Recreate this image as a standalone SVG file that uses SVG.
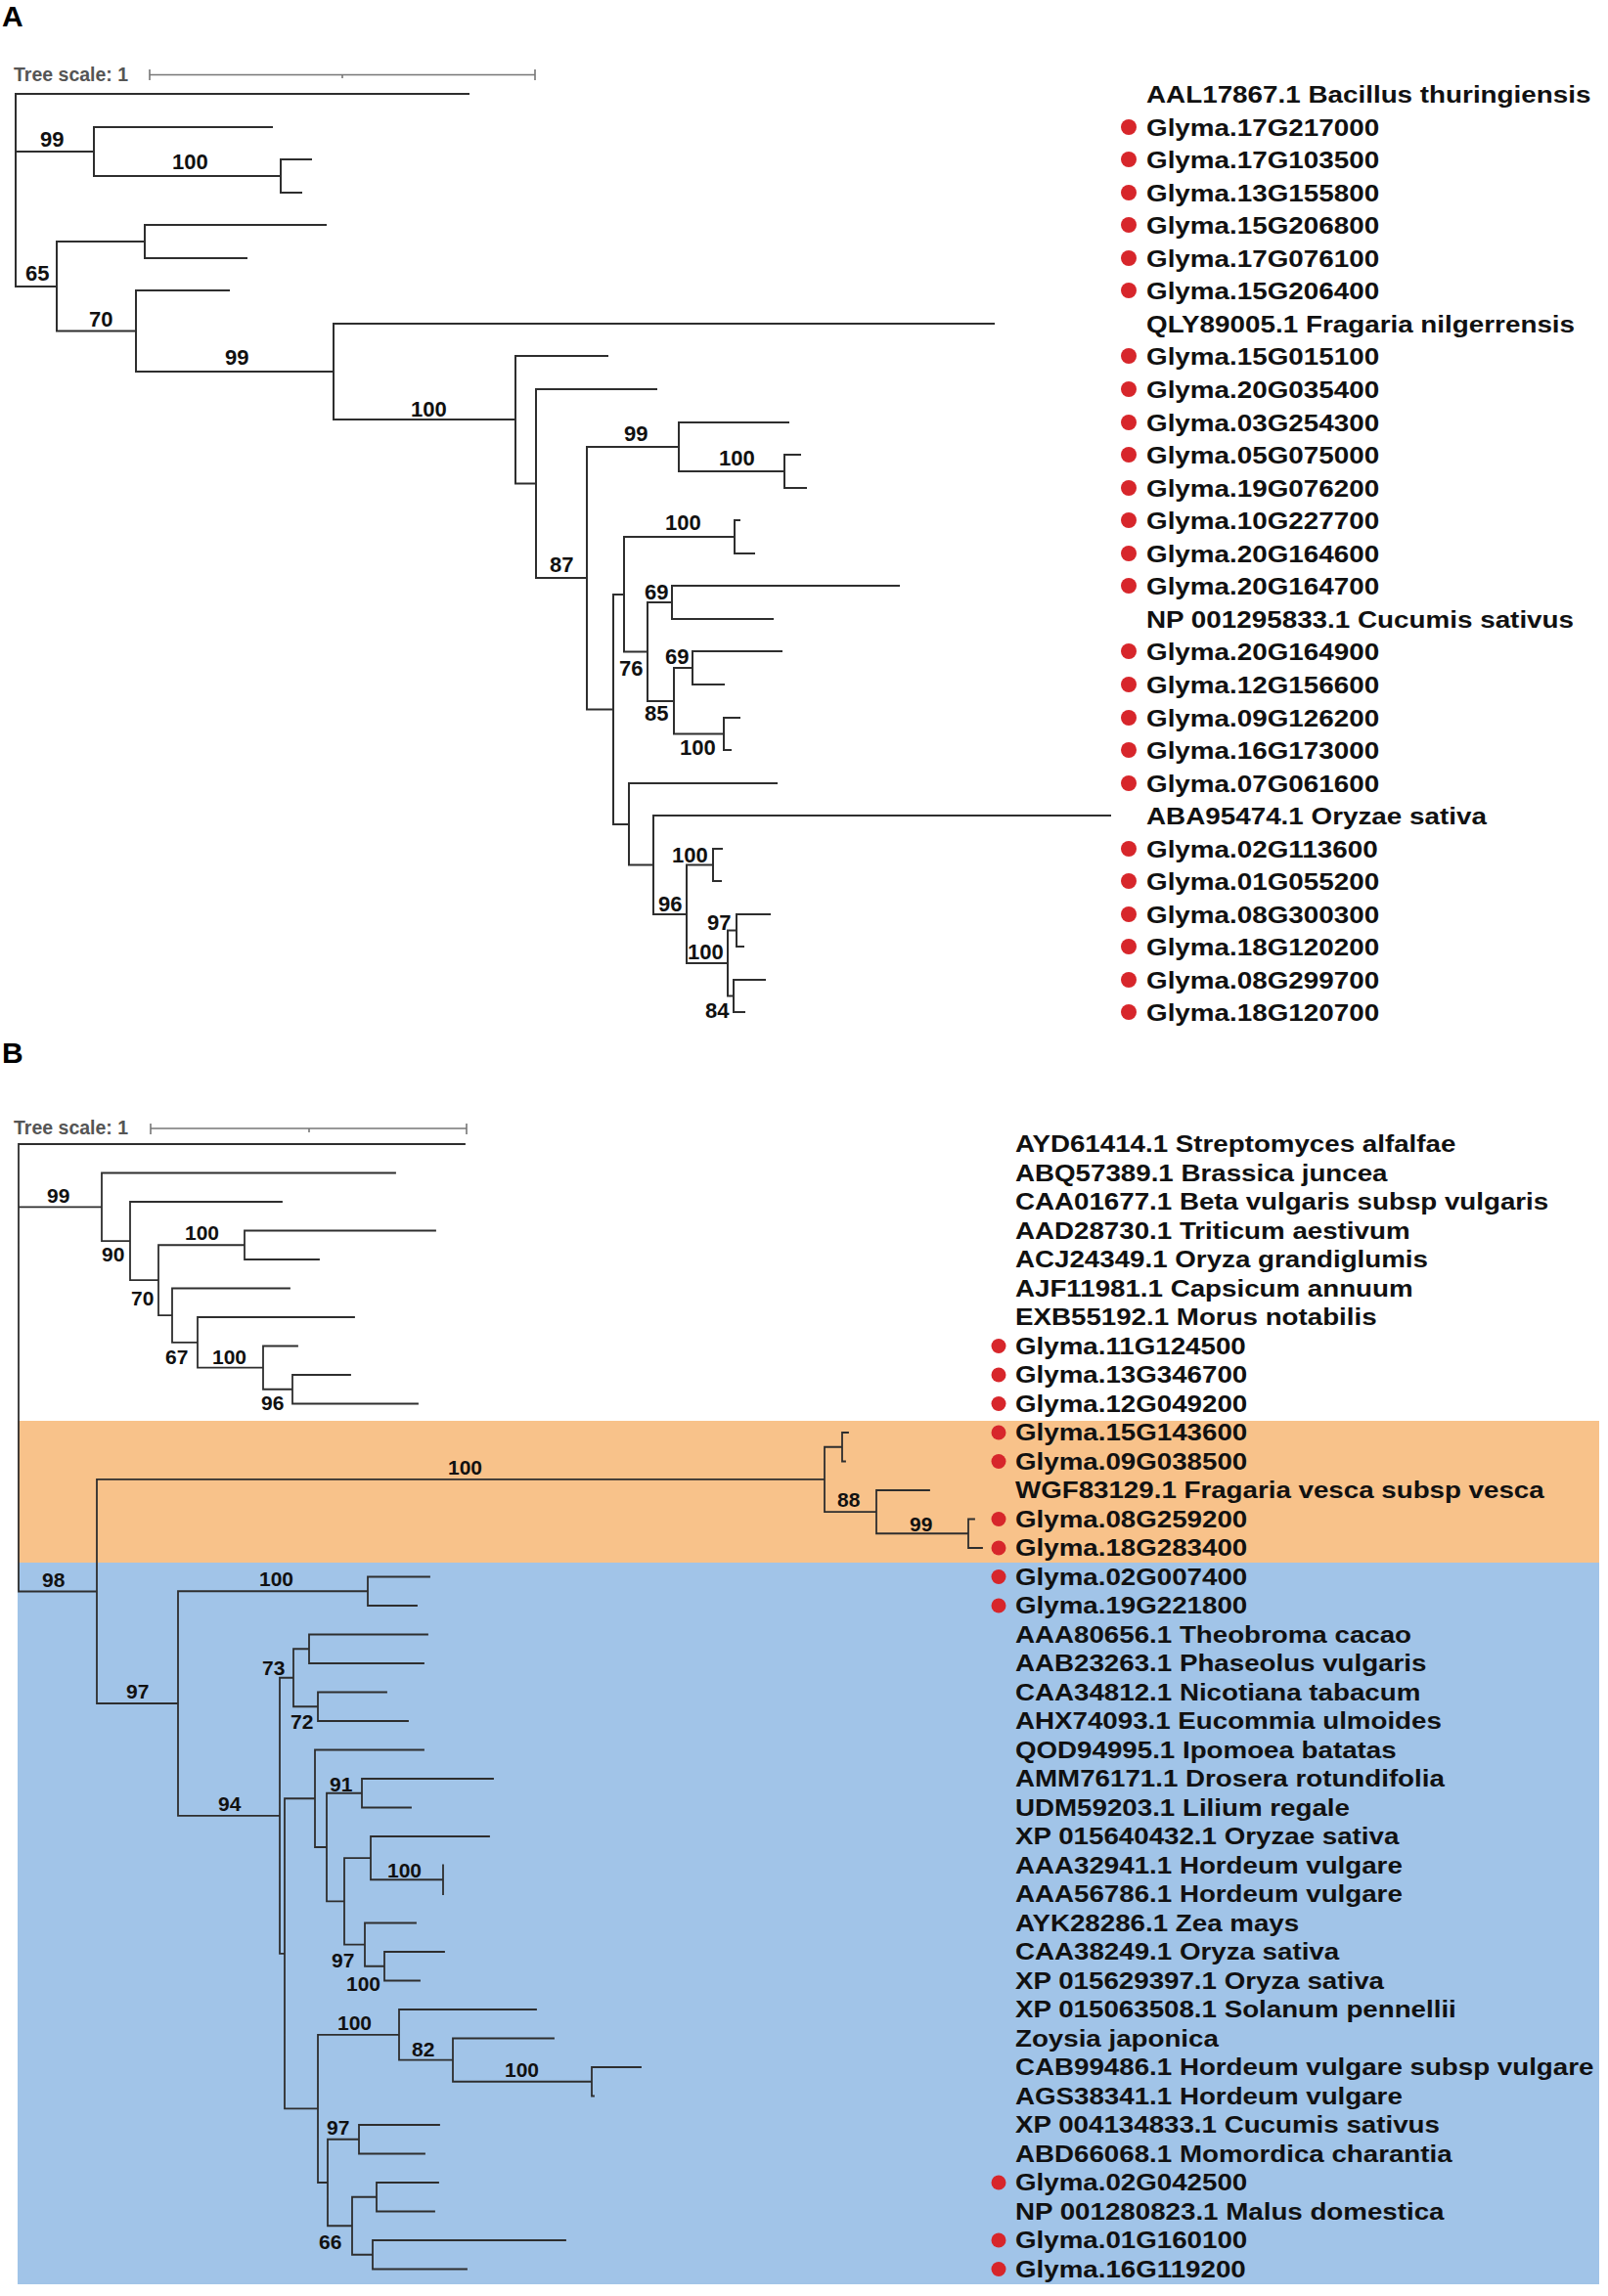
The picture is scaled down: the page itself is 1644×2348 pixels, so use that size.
<svg xmlns="http://www.w3.org/2000/svg" width="1644" height="2348" viewBox="0 0 1644 2348">
<style>
.br{fill:none;stroke:#2e2e2e;stroke-width:2;stroke-linecap:square}
.brB{fill:none;stroke:#2e2e2e;stroke-width:1.8;stroke-linecap:square}
.sc{fill:none;stroke:#777;stroke-width:1.6}
.sct{font-family:"Liberation Sans",Arial,sans-serif;font-weight:bold;font-size:19.5px;fill:#555}
.bs{font-family:"Liberation Sans",Arial,sans-serif;font-weight:bold;font-size:22px;fill:#111}
.bsB{font-family:"Liberation Sans",Arial,sans-serif;font-weight:bold;font-size:21px;fill:#111}
.lbl{font-family:"Liberation Sans",Arial,sans-serif;font-weight:bold;font-size:24.2px;fill:#111}
.lblB{font-family:"Liberation Sans",Arial,sans-serif;font-weight:bold;font-size:23.3px;fill:#111}
.dot{fill:#d7262b}
.pl{font-family:"Liberation Sans",Arial,sans-serif;font-weight:bold;font-size:30px;fill:#000}
</style>
<rect x="0" y="0" width="1644" height="2348" fill="#fff"/>
<g id="backgrounds">
<rect x="18" y="1453" width="1617" height="145" fill="#f8c28a"/>
<rect x="18" y="1598" width="1617" height="738" fill="#a1c4e8"/>
</g>
<text class="pl" x="2" y="27">A</text>
<text class="pl" x="2" y="1087">B</text>
<g id="scaleA">
<text class="sct" x="14" y="83">Tree scale: 1</text>
<path class="sc" d="M153 76.5H547M153 71V82M547 71V82M350 76.5V80"/>
</g>
<g id="scaleB">
<text class="sct" x="14" y="1160">Tree scale: 1</text>
<path class="sc" d="M154 1154H477M154 1149V1160M477 1149V1160M316 1154V1158"/>
</g>
<g id="connectors">
<path class="br" d="M16 96V293M16 96H479M16 155H96M16 293H58
M96 130V180M96 130H278M96 180H287
M287 163V197M287 163H318M287 197H308
M58 247V338.5M58 247H148M58 338.5H139
M148 230V264M148 230H333M148 264H252
M139 297V380M139 297H234M139 380H341
M341 331V429M341 331H1016M341 429H527
M527 364V494.5M527 364H621M527 494.5H548
M548 398V591M548 398H671M548 591H600
M600 457V725.5M600 457H694M600 725.5H627
M694 432V482M694 432H806M694 482H802
M802 465V499M802 465H818M802 499H824
M627 608V843M627 608H638M627 843H643
M638 549V666.5M638 549H751M638 666.5H662
M751 532V566M751 532H756M751 566H771
M662 616V717M662 616H687M662 717H689
M687 599V633M687 599H919M687 633H790
M689 683V750.5M689 683H708M689 750.5H740
M708 666V700M708 666H799M708 700H740
M740 734V767M740 734H756M740 767H747
M643 801V884.5M643 801H794M643 884.5H668
M668 834V935M668 834H1135M668 935H702
M702 884.5V985M702 884.5H729M702 985H744
M729 868V901M729 868H738M729 901H737
M744 951.5V1018.5M744 951.5H753M744 1018.5H750
M753 935V968M753 935H787M753 968H760
M750 1002V1035M750 1002H782M750 1035H761"/>
<path class="brB" d="M19 1170V1627.5M19 1170H475M19 1234.3H104M19 1627.5H99
M104 1199.5V1269.1M104 1199.5H404M104 1269.1H133
M133 1229V1309.2M133 1229H288M133 1309.2H162
M162 1273.25V1345.2M162 1273.25H250M162 1345.2H176
M250 1258.5V1288M250 1258.5H445M250 1288H326
M176 1317.5V1372.8M176 1317.5H296M176 1372.8H202
M202 1347V1398.6M202 1347H362M202 1398.6H269
M269 1376.5V1420.75M269 1376.5H304M269 1420.75H299
M299 1406V1435.5M299 1406H358M299 1435.5H427
M99 1512.9V1742M99 1512.9H843M99 1742H182
M843 1479.75V1546.1M843 1479.75H861M843 1546.1H896
M861 1465V1494.5M861 1465H867M861 1494.5H864
M896 1524V1568.25M896 1524H950M896 1568.25H990
M990 1553.5V1583M990 1553.5H996M990 1583H1004
M182 1627.25V1856.8M182 1627.25H376M182 1856.8H286
M376 1612.5V1642M376 1612.5H439M376 1642H426
M286 1715.75V1997.8M286 1715.75H300M286 1997.8H291
M300 1686.25V1745.25M300 1686.25H316M300 1745.25H325
M316 1671.5V1701M316 1671.5H437M316 1701H433
M325 1730.5V1760M325 1730.5H395M325 1760H417
M291 1839.25V2156.4M291 1839.25H322M291 2156.4H325
M322 1789.5V1889M322 1789.5H433M322 1889H334
M334 1833.75V1944.4M334 1833.75H370M334 1944.4H352
M370 1819V1848.5M370 1819H504M370 1848.5H420
M352 1900.1V1988.6M352 1900.1H379M352 1988.6H373
M379 1878V1922.25M379 1878H500M379 1922.25H453
M453 1907.5V1937
M373 1966.5V2010.75M373 1966.5H425M373 2010.75H393
M393 1996V2025.5M393 1996H454M393 2025.5H429
M325 2080.8V2232M325 2080.8H408M325 2232H335
M408 2055V2106.6M408 2055H548M408 2106.6H463
M463 2084.5V2128.75M463 2084.5H566M463 2128.75H605
M605 2114V2143.5M605 2114H655M605 2143.5H607
M335 2187.75V2276.25M335 2187.75H367M335 2276.25H360
M367 2173V2202.5M367 2173H449M367 2202.5H434
M360 2246.75V2305.75M360 2246.75H385M360 2305.75H381
M385 2232V2261.5M385 2232H448M385 2261.5H444
M381 2291V2320.5M381 2291H578M381 2320.5H477"/>
</g>
<g id="bootstrapA">
<text class="bs" x="41" y="150">99</text>
<text class="bs" x="176" y="173">100</text>
<text class="bs" x="26" y="287">65</text>
<text class="bs" x="91" y="334">70</text>
<text class="bs" x="230" y="373">99</text>
<text class="bs" x="420" y="426">100</text>
<text class="bs" x="562" y="585">87</text>
<text class="bs" x="638" y="451">99</text>
<text class="bs" x="735" y="476">100</text>
<text class="bs" x="680" y="542">100</text>
<text class="bs" x="659" y="613">69</text>
<text class="bs" x="633" y="691">76</text>
<text class="bs" x="680" y="679">69</text>
<text class="bs" x="659" y="737">85</text>
<text class="bs" x="695" y="772">100</text>
<text class="bs" x="687" y="882">100</text>
<text class="bs" x="673" y="932">96</text>
<text class="bs" x="723" y="951">97</text>
<text class="bs" x="703" y="981">100</text>
<text class="bs" x="721" y="1041">84</text>
</g>
<g id="bootstrapB">
<text class="bsB" x="48" y="1230">99</text>
<text class="bsB" x="104" y="1290">90</text>
<text class="bsB" x="189" y="1268">100</text>
<text class="bsB" x="134" y="1335">70</text>
<text class="bsB" x="169" y="1395">67</text>
<text class="bsB" x="217" y="1395">100</text>
<text class="bsB" x="267" y="1442">96</text>
<text class="bsB" x="458" y="1508">100</text>
<text class="bsB" x="856" y="1541">88</text>
<text class="bsB" x="930" y="1566">99</text>
<text class="bsB" x="43" y="1623">98</text>
<text class="bsB" x="265" y="1622">100</text>
<text class="bsB" x="129" y="1737">97</text>
<text class="bsB" x="223" y="1852">94</text>
<text class="bsB" x="268" y="1713">73</text>
<text class="bsB" x="297" y="1768">72</text>
<text class="bsB" x="337" y="1832">91</text>
<text class="bsB" x="396" y="1920">100</text>
<text class="bsB" x="339" y="2012">97</text>
<text class="bsB" x="354" y="2036">100</text>
<text class="bsB" x="345" y="2076">100</text>
<text class="bsB" x="421" y="2103">82</text>
<text class="bsB" x="516" y="2124">100</text>
<text class="bsB" x="334" y="2183">97</text>
<text class="bsB" x="326" y="2300">66</text>
</g>
<g id="leavesA">
<g id="a00"><text class="lbl" transform="translate(1172 104.7) scale(1.15 1)">AAL17867.1 Bacillus thuringiensis</text></g>
<g id="a01"><circle class="dot" cx="1154" cy="130" r="8"/><text class="lbl" transform="translate(1172 138.7) scale(1.15 1)">Glyma.17G217000</text></g>
<g id="a02"><circle class="dot" cx="1154" cy="163" r="8"/><text class="lbl" transform="translate(1172 171.7) scale(1.15 1)">Glyma.17G103500</text></g>
<g id="a03"><circle class="dot" cx="1154" cy="197" r="8"/><text class="lbl" transform="translate(1172 205.7) scale(1.15 1)">Glyma.13G155800</text></g>
<g id="a04"><circle class="dot" cx="1154" cy="230" r="8"/><text class="lbl" transform="translate(1172 238.7) scale(1.15 1)">Glyma.15G206800</text></g>
<g id="a05"><circle class="dot" cx="1154" cy="264" r="8"/><text class="lbl" transform="translate(1172 272.7) scale(1.15 1)">Glyma.17G076100</text></g>
<g id="a06"><circle class="dot" cx="1154" cy="297" r="8"/><text class="lbl" transform="translate(1172 305.7) scale(1.15 1)">Glyma.15G206400</text></g>
<g id="a07"><text class="lbl" transform="translate(1172 339.7) scale(1.15 1)">QLY89005.1 Fragaria nilgerrensis</text></g>
<g id="a08"><circle class="dot" cx="1154" cy="364" r="8"/><text class="lbl" transform="translate(1172 372.7) scale(1.15 1)">Glyma.15G015100</text></g>
<g id="a09"><circle class="dot" cx="1154" cy="398" r="8"/><text class="lbl" transform="translate(1172 406.7) scale(1.15 1)">Glyma.20G035400</text></g>
<g id="a10"><circle class="dot" cx="1154" cy="432" r="8"/><text class="lbl" transform="translate(1172 440.7) scale(1.15 1)">Glyma.03G254300</text></g>
<g id="a11"><circle class="dot" cx="1154" cy="465" r="8"/><text class="lbl" transform="translate(1172 473.7) scale(1.15 1)">Glyma.05G075000</text></g>
<g id="a12"><circle class="dot" cx="1154" cy="499" r="8"/><text class="lbl" transform="translate(1172 507.7) scale(1.15 1)">Glyma.19G076200</text></g>
<g id="a13"><circle class="dot" cx="1154" cy="532" r="8"/><text class="lbl" transform="translate(1172 540.7) scale(1.15 1)">Glyma.10G227700</text></g>
<g id="a14"><circle class="dot" cx="1154" cy="566" r="8"/><text class="lbl" transform="translate(1172 574.7) scale(1.15 1)">Glyma.20G164600</text></g>
<g id="a15"><circle class="dot" cx="1154" cy="599" r="8"/><text class="lbl" transform="translate(1172 607.7) scale(1.15 1)">Glyma.20G164700</text></g>
<g id="a16"><text class="lbl" transform="translate(1172 641.7) scale(1.15 1)">NP 001295833.1 Cucumis sativus</text></g>
<g id="a17"><circle class="dot" cx="1154" cy="666" r="8"/><text class="lbl" transform="translate(1172 674.7) scale(1.15 1)">Glyma.20G164900</text></g>
<g id="a18"><circle class="dot" cx="1154" cy="700" r="8"/><text class="lbl" transform="translate(1172 708.7) scale(1.15 1)">Glyma.12G156600</text></g>
<g id="a19"><circle class="dot" cx="1154" cy="734" r="8"/><text class="lbl" transform="translate(1172 742.7) scale(1.15 1)">Glyma.09G126200</text></g>
<g id="a20"><circle class="dot" cx="1154" cy="767" r="8"/><text class="lbl" transform="translate(1172 775.7) scale(1.15 1)">Glyma.16G173000</text></g>
<g id="a21"><circle class="dot" cx="1154" cy="801" r="8"/><text class="lbl" transform="translate(1172 809.7) scale(1.15 1)">Glyma.07G061600</text></g>
<g id="a22"><text class="lbl" transform="translate(1172 842.7) scale(1.15 1)">ABA95474.1 Oryzae sativa</text></g>
<g id="a23"><circle class="dot" cx="1154" cy="868" r="8"/><text class="lbl" transform="translate(1172 876.7) scale(1.15 1)">Glyma.02G113600</text></g>
<g id="a24"><circle class="dot" cx="1154" cy="901" r="8"/><text class="lbl" transform="translate(1172 909.7) scale(1.15 1)">Glyma.01G055200</text></g>
<g id="a25"><circle class="dot" cx="1154" cy="935" r="8"/><text class="lbl" transform="translate(1172 943.7) scale(1.15 1)">Glyma.08G300300</text></g>
<g id="a26"><circle class="dot" cx="1154" cy="968" r="8"/><text class="lbl" transform="translate(1172 976.7) scale(1.15 1)">Glyma.18G120200</text></g>
<g id="a27"><circle class="dot" cx="1154" cy="1002" r="8"/><text class="lbl" transform="translate(1172 1010.7) scale(1.15 1)">Glyma.08G299700</text></g>
<g id="a28"><circle class="dot" cx="1154" cy="1035" r="8"/><text class="lbl" transform="translate(1172 1043.7) scale(1.15 1)">Glyma.18G120700</text></g>
</g>
<g id="leavesB">
<g id="b00"><text class="lblB" transform="translate(1038 1178.3) scale(1.19 1)">AYD61414.1 Streptomyces alfalfae</text></g>
<g id="b01"><text class="lblB" transform="translate(1038 1207.8) scale(1.19 1)">ABQ57389.1 Brassica juncea</text></g>
<g id="b02"><text class="lblB" transform="translate(1038 1237.3) scale(1.19 1)">CAA01677.1 Beta vulgaris subsp vulgaris</text></g>
<g id="b03"><text class="lblB" transform="translate(1038 1266.8) scale(1.19 1)">AAD28730.1 Triticum aestivum</text></g>
<g id="b04"><text class="lblB" transform="translate(1038 1296.3) scale(1.19 1)">ACJ24349.1 Oryza grandiglumis</text></g>
<g id="b05"><text class="lblB" transform="translate(1038 1325.8) scale(1.19 1)">AJF11981.1 Capsicum annuum</text></g>
<g id="b06"><text class="lblB" transform="translate(1038 1355.3) scale(1.19 1)">EXB55192.1 Morus notabilis</text></g>
<g id="b07"><circle class="dot" cx="1021" cy="1376.5" r="7.5"/><text class="lblB" transform="translate(1038 1384.8) scale(1.19 1)">Glyma.11G124500</text></g>
<g id="b08"><circle class="dot" cx="1021" cy="1406" r="7.5"/><text class="lblB" transform="translate(1038 1414.3) scale(1.19 1)">Glyma.13G346700</text></g>
<g id="b09"><circle class="dot" cx="1021" cy="1435.5" r="7.5"/><text class="lblB" transform="translate(1038 1443.8) scale(1.19 1)">Glyma.12G049200</text></g>
<g id="b10"><circle class="dot" cx="1021" cy="1465" r="7.5"/><text class="lblB" transform="translate(1038 1473.3) scale(1.19 1)">Glyma.15G143600</text></g>
<g id="b11"><circle class="dot" cx="1021" cy="1494.5" r="7.5"/><text class="lblB" transform="translate(1038 1502.8) scale(1.19 1)">Glyma.09G038500</text></g>
<g id="b12"><text class="lblB" transform="translate(1038 1532.3) scale(1.19 1)">WGF83129.1 Fragaria vesca subsp vesca</text></g>
<g id="b13"><circle class="dot" cx="1021" cy="1553.5" r="7.5"/><text class="lblB" transform="translate(1038 1561.8) scale(1.19 1)">Glyma.08G259200</text></g>
<g id="b14"><circle class="dot" cx="1021" cy="1583" r="7.5"/><text class="lblB" transform="translate(1038 1591.3) scale(1.19 1)">Glyma.18G283400</text></g>
<g id="b15"><circle class="dot" cx="1021" cy="1612.5" r="7.5"/><text class="lblB" transform="translate(1038 1620.8) scale(1.19 1)">Glyma.02G007400</text></g>
<g id="b16"><circle class="dot" cx="1021" cy="1642" r="7.5"/><text class="lblB" transform="translate(1038 1650.3) scale(1.19 1)">Glyma.19G221800</text></g>
<g id="b17"><text class="lblB" transform="translate(1038 1679.8) scale(1.19 1)">AAA80656.1 Theobroma cacao</text></g>
<g id="b18"><text class="lblB" transform="translate(1038 1709.3) scale(1.19 1)">AAB23263.1 Phaseolus vulgaris</text></g>
<g id="b19"><text class="lblB" transform="translate(1038 1738.8) scale(1.19 1)">CAA34812.1 Nicotiana tabacum</text></g>
<g id="b20"><text class="lblB" transform="translate(1038 1768.3) scale(1.19 1)">AHX74093.1 Eucommia ulmoides</text></g>
<g id="b21"><text class="lblB" transform="translate(1038 1797.8) scale(1.19 1)">QOD94995.1 Ipomoea batatas</text></g>
<g id="b22"><text class="lblB" transform="translate(1038 1827.3) scale(1.19 1)">AMM76171.1 Drosera rotundifolia</text></g>
<g id="b23"><text class="lblB" transform="translate(1038 1856.8) scale(1.19 1)">UDM59203.1 Lilium regale</text></g>
<g id="b24"><text class="lblB" transform="translate(1038 1886.3) scale(1.19 1)">XP 015640432.1 Oryzae sativa</text></g>
<g id="b25"><text class="lblB" transform="translate(1038 1915.8) scale(1.19 1)">AAA32941.1 Hordeum vulgare</text></g>
<g id="b26"><text class="lblB" transform="translate(1038 1945.3) scale(1.19 1)">AAA56786.1 Hordeum vulgare</text></g>
<g id="b27"><text class="lblB" transform="translate(1038 1974.8) scale(1.19 1)">AYK28286.1 Zea mays</text></g>
<g id="b28"><text class="lblB" transform="translate(1038 2004.3) scale(1.19 1)">CAA38249.1 Oryza sativa</text></g>
<g id="b29"><text class="lblB" transform="translate(1038 2033.8) scale(1.19 1)">XP 015629397.1 Oryza sativa</text></g>
<g id="b30"><text class="lblB" transform="translate(1038 2063.3) scale(1.19 1)">XP 015063508.1 Solanum pennellii</text></g>
<g id="b31"><text class="lblB" transform="translate(1038 2092.8) scale(1.19 1)">Zoysia japonica</text></g>
<g id="b32"><text class="lblB" transform="translate(1038 2122.3) scale(1.19 1)">CAB99486.1 Hordeum vulgare subsp vulgare</text></g>
<g id="b33"><text class="lblB" transform="translate(1038 2151.8) scale(1.19 1)">AGS38341.1 Hordeum vulgare</text></g>
<g id="b34"><text class="lblB" transform="translate(1038 2181.3) scale(1.19 1)">XP 004134833.1 Cucumis sativus</text></g>
<g id="b35"><text class="lblB" transform="translate(1038 2210.8) scale(1.19 1)">ABD66068.1 Momordica charantia</text></g>
<g id="b36"><circle class="dot" cx="1021" cy="2232" r="7.5"/><text class="lblB" transform="translate(1038 2240.3) scale(1.19 1)">Glyma.02G042500</text></g>
<g id="b37"><text class="lblB" transform="translate(1038 2269.8) scale(1.19 1)">NP 001280823.1 Malus domestica</text></g>
<g id="b38"><circle class="dot" cx="1021" cy="2291" r="7.5"/><text class="lblB" transform="translate(1038 2299.3) scale(1.19 1)">Glyma.01G160100</text></g>
<g id="b39"><circle class="dot" cx="1021" cy="2320.5" r="7.5"/><text class="lblB" transform="translate(1038 2328.8) scale(1.19 1)">Glyma.16G119200</text></g>
</g>
</svg>
